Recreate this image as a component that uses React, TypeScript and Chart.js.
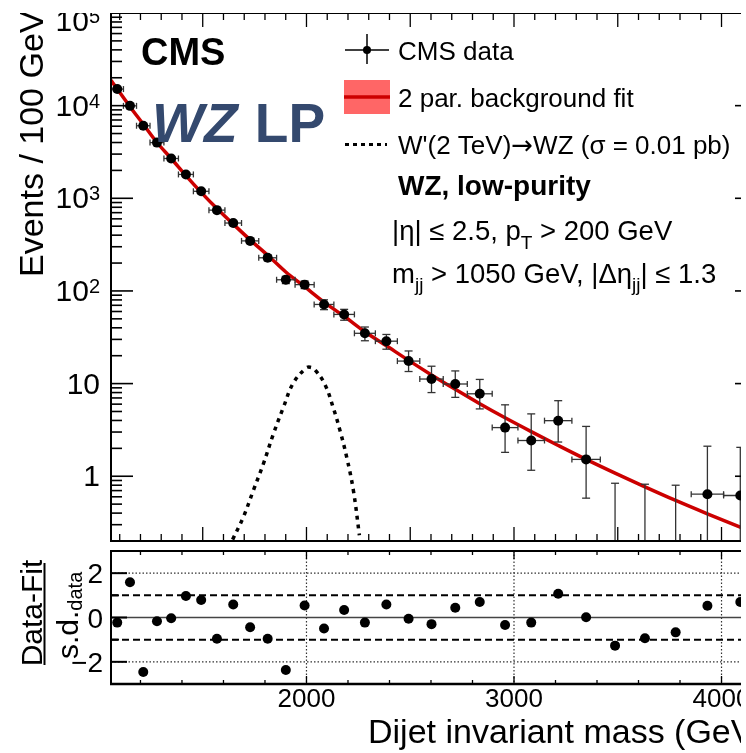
import React, { useEffect, useRef } from 'react';
import { Chart, registerables } from 'chart.js';
Chart.register(...registerables);

const FONT = '"Liberation Sans", Arial, Helvetica, sans-serif';

// ---- data ----
const binEdges = [1058, 1118, 1181, 1246, 1313, 1383, 1455, 1530, 1607, 1687, 1770, 1856, 1945, 2037, 2132, 2231, 2332, 2438, 2546, 2659, 2775, 2895, 3019, 3147, 3279, 3416, 3558, 3704, 3854, 4010, 4171];
const dataValues = [15100, 9950, 6070, 3990, 2690, 1810, 1190, 745, 541, 347, 228, 132, 117, 71.5, 55.8, 34.9, 28.7, 17.5, 11.2, 9.9, 7.76, 3.35, 2.43, 3.98, 1.52, 0, 0, 0, 0.64, 0.62];
const errLow = [159, 126, 97, 77, 62, 50, 40, 31, 26, 20, 16, 12, 11, 8.7, 7.5, 5.9, 5.2, 4.0, 3.2, 2.8, 2.43, 1.54, 1.27, 1.64, 0.94, 0, 0, 0, 0.53, 0.51];
const errHigh = [159, 126, 97, 77, 62, 50, 40, 31, 26, 20, 16, 12, 11, 8.7, 7.5, 5.9, 5.2, 5.0, 4.2, 3.8, 3.33, 2.55, 2.28, 2.56, 1.93, 0.84, 0.82, 0.8, 1.47, 1.43];
const pullValues = [-0.23, 1.59, -2.46, -0.17, -0.03, 0.97, 0.79, -0.96, 0.59, -0.44, -0.96, -2.37, 0.54, -0.5, 0.34, -0.23, 0.59, -0.06, -0.3, 0.44, 0.7, -0.34, -0.23, 1.07, 0.01, -1.27, -0.94, -0.67, 0.53, 0.7];
const fitMass = [1058, 1088, 1149.5, 1213.5, 1279.5, 1348, 1419, 1492.5, 1568.5, 1647, 1728.5, 1813, 1900.5, 1991, 2084.5, 2181.5, 2281.5, 2385, 2492, 2602.5, 2717, 2835, 2957, 3083, 3213, 3347.5, 3487, 3631, 3779, 3932, 4090, 4171];
const fitValues = [18800, 15140, 9750, 6300, 4000, 2690, 1760, 1160, 775, 526, 356, 243, 160, 111, 75.8, 53.3, 36.3, 25.6, 17.8, 12.4, 8.67, 6.06, 4.27, 3.03, 2.15, 1.52, 1.08, 0.769, 0.548, 0.393, 0.282, 0.239];
const signalMass = [1644, 1696, 1744, 1792, 1840, 1888, 1937, 1998, 2018, 2041, 2089, 2129, 2162, 2194, 2226, 2255];
const signalValues = [0.207, 0.364, 0.703, 1.355, 2.84, 5.49, 10.2, 14.7, 15.0, 14.1, 9.76, 5.49, 3.09, 1.6, 0.703, 0.231];
const xTickValues = [2000, 3000, 4000];
const xTickLabels = ['2000', '3000', '4000'];
const yTickExponents = [0, 1, 2, 3, 4, 5];
const pullTickValues = [2, 0, -2];
const pullTickLabels = ['2', '0', '\u22122'];

const X_MIN = 1058;
const X_MAX = 4171;

function f(size: number, bold = false, italic = false, family = FONT) {
  return `${italic ? 'italic ' : ''}${bold ? 'bold ' : ''}${size}px ${family}`;
}
function line(ctx: CanvasRenderingContext2D, x1: number, y1: number, x2: number, y2: number) {
  ctx.beginPath();
  ctx.moveTo(x1, y1);
  ctx.lineTo(x2, y2);
  ctx.stroke();
}
type Seg = { t: string; size: number; bold?: boolean; italic?: boolean; dy?: number; family?: string };
function segs(ctx: CanvasRenderingContext2D, x: number, y: number, list: Seg[]) {
  let cx = x;
  for (const s of list) {
    ctx.font = f(s.size, s.bold, s.italic, s.family || FONT);
    ctx.fillText(s.t, cx, y + (s.dy || 0));
    cx += ctx.measureText(s.t).width;
  }
  return cx;
}
function centers() {
  return dataValues.map((_, i) => (binEdges[i] + binEdges[i + 1]) / 2);
}

const topPlugin = {
  id: 'topDeco',
  beforeDatasetDraw(chart: any, args: any) {
    if (args.index !== 2) return;
    const { ctx, chartArea: a, scales } = chart;
    const x = scales.x, y = scales.y;
    ctx.save();
    ctx.beginPath();
    ctx.rect(a.left, a.top, a.right - a.left, a.bottom - a.top);
    ctx.clip();
    ctx.strokeStyle = '#333';
    ctx.lineWidth = 1.3;
    const cs = centers();
    dataValues.forEach((v, i) => {
      const cx = x.getPixelForValue(cs[i]);
      const lo = v - errLow[i];
      const hi = v + errHigh[i];
      const yHi = y.getPixelForValue(hi);
      const yLo = lo > 0 ? y.getPixelForValue(lo) : a.bottom + 3;
      line(ctx, cx, yLo, cx, yHi);
      line(ctx, cx - 4, yHi, cx + 4, yHi);
      if (lo > 0) line(ctx, cx - 4, yLo, cx + 4, yLo);
      if (v > 0) {
        const py = y.getPixelForValue(v);
        const x1 = x.getPixelForValue(binEdges[i]);
        const x2 = x.getPixelForValue(binEdges[i + 1]);
        line(ctx, x1, py, x2, py);
        line(ctx, x1, py - 3, x1, py + 3);
        line(ctx, x2, py - 3, x2, py + 3);
      }
    });
    ctx.restore();
  },
  afterDraw(chart: any) {
    const { ctx, chartArea: a, scales } = chart;
    const x = scales.x, y = scales.y;
    ctx.save();
    ctx.strokeStyle = '#000';
    ctx.fillStyle = '#000';
    ctx.lineWidth = 2;
    line(ctx, a.left - 1, a.top, a.right, a.top);
    line(ctx, a.left, a.top, a.left, a.bottom);
    line(ctx, a.left - 1, a.bottom, a.right, a.bottom);
    line(ctx, a.right, a.top, a.right, a.bottom);
    // x ticks
    ctx.lineWidth = 1.3;
    for (let m = 1100; m <= 4100; m += 100) {
      const px = x.getPixelForValue(m);
      const len = m % 500 === 0 ? 14 : 7;
      line(ctx, px, a.bottom, px, a.bottom - len);
      line(ctx, px, a.top, px, a.top + len);
    }
    // y ticks
    ctx.lineWidth = 1.6;
    for (let e = -1; e <= 5; e++) {
      for (let j = 1; j <= 9; j++) {
        const v = j * Math.pow(10, e);
        if (v < 0.2 || v > 1e5 + 1) continue;
        const py = y.getPixelForValue(v);
        const len = j === 1 ? 22 : 11;
        line(ctx, a.left, py, a.left + len, py);
        line(ctx, a.right, py, a.right - len, py);
      }
    }
    // y labels
    ctx.textAlign = 'left';
    ctx.textBaseline = 'alphabetic';
    yTickExponents.forEach((e) => {
      let py = y.getPixelForValue(Math.pow(10, e));
      if (py < a.top + 8) py = a.top + 8;
      const base = e === 0 ? '1' : '10';
      const sup = e >= 2 ? String(e) : '';
      ctx.font = f(20);
      const ws = sup ? ctx.measureText(sup).width : 0;
      ctx.font = f(30);
      const wb = ctx.measureText(base).width;
      const right = 100;
      ctx.fillText(base, right - ws - wb, py + 10);
      if (sup) {
        ctx.font = f(20);
        ctx.fillText(sup, right - ws, py + 2);
      }
    });
    // y title
    ctx.save();
    ctx.translate(43, 277);
    ctx.rotate(-Math.PI / 2);
    ctx.font = f(34);
    ctx.fillText('Events / 100 GeV', 0, 0);
    ctx.restore();

    // CMS / WZ LP
    ctx.font = f(38, true);
    ctx.fillText('CMS', 141, 65);
    ctx.fillStyle = '#34496e';
    ctx.font = f(55, true, true);
    ctx.fillText('WZ', 152, 142);
    const wz = ctx.measureText('WZ ').width;
    ctx.font = f(55, true);
    ctx.fillText('LP', 152 + wz + 2, 142);
    ctx.fillStyle = '#000';

    // legend
    ctx.strokeStyle = '#000';
    ctx.lineWidth = 1.5;
    line(ctx, 345, 50, 389, 50);
    line(ctx, 367, 34, 367, 64);
    ctx.beginPath();
    ctx.arc(367, 50, 4, 0, Math.PI * 2);
    ctx.fill();
    ctx.font = f(26);
    ctx.fillText('CMS data', 398, 60);

    ctx.fillStyle = '#ff6666';
    ctx.fillRect(344, 80, 46, 34);
    ctx.strokeStyle = '#cc0000';
    ctx.lineWidth = 3.5;
    line(ctx, 344, 97, 390, 97);
    ctx.fillStyle = '#000';
    ctx.fillText('2 par. background fit', 398, 107);

    ctx.strokeStyle = '#000';
    ctx.lineWidth = 3;
    ctx.setLineDash([4, 4]);
    line(ctx, 345, 144.5, 387, 144.5);
    ctx.setLineDash([]);
    const endW = segs(ctx, 398, 154, [
      { t: "W'(2 TeV)", size: 26 },
      { t: '\u2192', size: 26, family: '"DejaVu Sans", sans-serif' },
      { t: 'WZ (\u03c3 = 0.01 pb)', size: 26 },
    ]);
    void endW;

    ctx.font = f(28, true);
    ctx.fillText('WZ, low-purity', 398, 195);

    segs(ctx, 392, 240, [
      { t: '|\u03b7| \u2264 2.5, p', size: 27.5 },
      { t: 'T', size: 19, dy: 9 },
      { t: ' > 200 GeV', size: 27.5 },
    ]);
    segs(ctx, 392, 283, [
      { t: 'm', size: 27.5 },
      { t: 'jj', size: 19, dy: 8 },
      { t: ' > 1050 GeV, |\u0394\u03b7', size: 27.5 },
      { t: 'jj', size: 19, dy: 8 },
      { t: '| \u2264 1.3', size: 27.5 },
    ]);
    ctx.restore();
  },
};

const botPlugin = {
  id: 'botDeco',
  beforeDatasetsDraw(chart: any) {
    const { ctx, chartArea: a, scales } = chart;
    const x = scales.x, y = scales.y;
    ctx.save();
    // dotted grid
    ctx.strokeStyle = '#333';
    ctx.lineWidth = 1.2;
    ctx.setLineDash([1.5, 2]);
    [2, -2].forEach((v) => line(ctx, a.left, y.getPixelForValue(v), a.right, y.getPixelForValue(v)));
    xTickValues.forEach((m) => line(ctx, x.getPixelForValue(m), a.top, x.getPixelForValue(m), a.bottom));
    // dashed +-1
    ctx.strokeStyle = '#000';
    ctx.lineWidth = 2;
    ctx.setLineDash([7, 4]);
    [1, -1].forEach((v) => line(ctx, a.left, y.getPixelForValue(v), a.right, y.getPixelForValue(v)));
    ctx.setLineDash([]);
    ctx.strokeStyle = '#444';
    ctx.lineWidth = 1.4;
    line(ctx, a.left, y.getPixelForValue(0), a.right, y.getPixelForValue(0));
    ctx.restore();
  },
  afterDraw(chart: any) {
    const { ctx, chartArea: a, scales } = chart;
    const x = scales.x, y = scales.y;
    ctx.save();
    ctx.strokeStyle = '#000';
    ctx.fillStyle = '#000';
    ctx.lineWidth = 2;
    line(ctx, a.left - 1, a.top, a.right, a.top);
    line(ctx, a.left, a.top, a.left, a.bottom);
    ctx.lineWidth = 2.5;
    line(ctx, a.left - 1, a.bottom, a.right, a.bottom);
    // x ticks
    ctx.lineWidth = 1.3;
    for (let m = 1200; m <= 4100; m += 200) {
      const px = x.getPixelForValue(m);
      const len = m % 1000 === 0 ? 8 : 4;
      line(ctx, px, a.bottom, px, a.bottom - len);
      line(ctx, px, a.top, px, a.top + len);
    }
    // y ticks
    ctx.lineWidth = 2;
    for (let v = -3; v <= 3; v++) {
      const py = y.getPixelForValue(v);
      const len = v % 2 === 0 ? 16 : 8;
      line(ctx, a.left, py, a.left + len, py);
    }
    // y labels
    ctx.font = f(28);
    ctx.textAlign = 'right';
    ctx.textBaseline = 'alphabetic';
    pullTickValues.forEach((v, i) => {
      ctx.fillText(pullTickLabels[i], 103, y.getPixelForValue(v) + 10);
    });
    // x labels
    ctx.font = f(26);
    ctx.textAlign = 'center';
    xTickValues.forEach((m, i) => {
      ctx.fillText(xTickLabels[i], x.getPixelForValue(m), 161);
    });
    // x title
    ctx.textAlign = 'left';
    ctx.font = f(34);
    ctx.fillText('Dijet invariant mass (GeV)', 368, 197);
    // y title (fraction)
    ctx.save();
    ctx.translate(44.5, 68);
    ctx.rotate(-Math.PI / 2);
    ctx.textAlign = 'center';
    ctx.font = f(30);
    ctx.fillText('Data-Fit', 1, -2.5);
    ctx.lineWidth = 2;
    line(ctx, -51, 0, 51, 0);
    ctx.textAlign = 'left';
    segs(ctx, -45, 33.5, [
      { t: 's.d.', size: 30 },
      { t: 'data', size: 20, dy: 4 },
    ]);
    ctx.restore();
    ctx.restore();
  },
};

export default function App() {
  const topRef = useRef<HTMLCanvasElement>(null);
  const botRef = useRef<HTMLCanvasElement>(null);

  useEffect(() => {
    const cs = centers();
    const dataPts = cs
      .map((c, i) => ({ x: c, y: dataValues[i] }))
      .filter((p) => p.y > 0);
    const c1 = new Chart(topRef.current as HTMLCanvasElement, {
      type: 'scatter',
      data: {
        datasets: [
          {
            label: '2 par. background fit',
            data: fitMass.map((m, i) => ({ x: m, y: fitValues[i] })),
            showLine: true,
            borderColor: '#cc0000',
            backgroundColor: '#cc0000',
            borderWidth: 3.5,
            pointRadius: 0,
            cubicInterpolationMode: 'monotone',
            order: 2,
          } as any,
          {
            label: 'signal',
            data: signalMass.map((m, i) => ({ x: m, y: signalValues[i] })),
            showLine: true,
            borderColor: '#000',
            borderWidth: 3.5,
            borderDash: [4, 5],
            borderCapStyle: 'butt',
            pointRadius: 0,
            tension: 0.4,
            order: 1,
          } as any,
          {
            label: 'CMS data',
            data: dataPts,
            showLine: false,
            pointRadius: 5,
            pointBackgroundColor: '#000',
            pointBorderColor: '#000',
            pointBorderWidth: 0,
            order: 0,
          } as any,
        ],
      },
      options: {
        responsive: false,
        animation: false,
        devicePixelRatio: 1,
        events: [],
        layout: { padding: { left: 111, right: 43, top: 13, bottom: 2 } },
        scales: {
          x: { type: 'linear', min: X_MIN, max: X_MAX, display: false },
          y: { type: 'logarithmic', min: 0.2, max: 1e5, display: false },
        },
        plugins: { legend: { display: false }, tooltip: { enabled: false } },
      },
      plugins: [topPlugin],
    });

    const c2 = new Chart(botRef.current as HTMLCanvasElement, {
      type: 'scatter',
      data: {
        datasets: [
          {
            label: 'pull',
            data: cs.map((c, i) => ({ x: c, y: pullValues[i] })),
            showLine: false,
            pointRadius: 5,
            pointBackgroundColor: '#000',
            pointBorderColor: '#000',
            pointBorderWidth: 0,
          } as any,
        ],
      },
      options: {
        responsive: false,
        animation: false,
        devicePixelRatio: 1,
        events: [],
        layout: { padding: { left: 111, right: 43, top: 1.5, bottom: 69 } },
        scales: {
          x: { type: 'linear', min: X_MIN, max: X_MAX, display: false },
          y: { type: 'linear', min: -3, max: 3, display: false },
        },
        plugins: { legend: { display: false }, tooltip: { enabled: false } },
      },
      plugins: [botPlugin],
    });

    return () => {
      c1.destroy();
      c2.destroy();
    };
  }, []);

  return (
    <div style={{ position: 'fixed', left: 0, top: 0, width: 746, height: 753, background: '#fff', overflow: 'hidden' }}>
      <div style={{ position: 'absolute', left: 0, top: 13, width: 741, height: 740, overflow: 'hidden' }}>
        <canvas
          ref={topRef}
          width={800}
          height={546}
          style={{ position: 'absolute', left: 0, top: -13, width: 800, height: 546 }}
        />
        <canvas
          ref={botRef}
          width={800}
          height={207}
          style={{ position: 'absolute', left: 0, top: 533, width: 800, height: 207 }}
        />
      </div>
    </div>
  );
}
